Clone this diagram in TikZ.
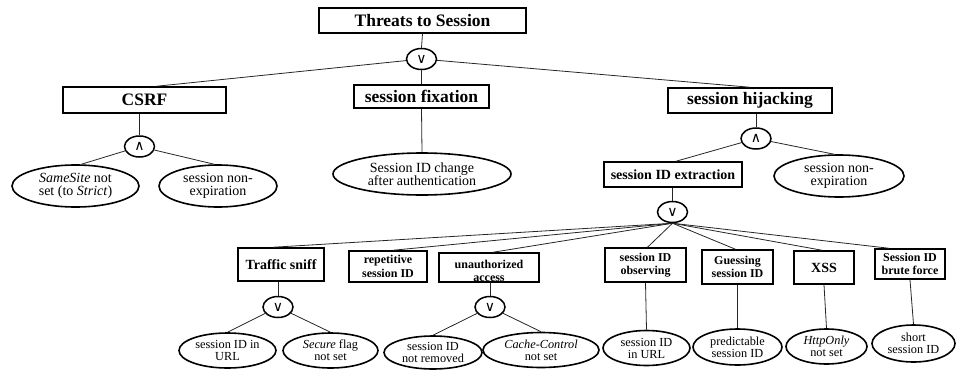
\documentclass[tikz,border=0pt]{standalone}
\usepackage{fontspec}
\setmainfont{Liberation Serif}
\newfontfamily\symfont{DejaVu Sans}
\usetikzlibrary{shapes.geometric}
\begin{document}
\begin{tikzpicture}[x=1pt,y=-1pt,
  box/.style={draw, line width=1.5pt, rectangle, inner sep=0pt, align=center},
  bigf/.style={font={\fontsize{17.5}{19}\selectfont\bfseries}},
  medf/.style={font={\fontsize{14}{15}\selectfont\bfseries}},
  smf/.style={font={\fontsize{12}{13.3}\selectfont\bfseries}},
  ell/.style={draw, ellipse, line width=1.6pt, inner sep=0pt, align=center},
  ellA/.style={font={\fontsize{14}{13.3}\selectfont}},
  ellB/.style={font={\fontsize{12.3}{12}\selectfont}},
  gate/.style={draw, ellipse, line width=1.5pt, inner sep=0pt, minimum width=30, minimum height=21, font={\symfont\fontsize{14}{14}\selectfont}},
  edge/.style={line width=0.8pt, black!85}]
\useasboundingbox (0,0) rectangle (956,370);

% level 0
\node[box, bigf, minimum width=207, minimum height=25] (root) at (422.5,20.5) {Threats to Session};
\node[gate] (g0) at (421.5,59) {∨};

% level 1
\node[box, bigf, minimum width=163, minimum height=26] (csrf) at (144.5,100) {CSRF};
\node[box, bigf, minimum width=135, minimum height=23] (fix) at (421.5,96.5) {session fixation};
\node[box, bigf, minimum width=164, minimum height=25] (hij) at (750,100.5) {session hijacking};

% CSRF subtree
\node[gate] (g1) at (139.5,146.5) {∧};
\node[ell, ellA, minimum width=127, minimum height=42] (same) at (75.5,186) {\textit{SameSite} not\\set (to \textit{Strict})};
\node[ell, ellA, minimum width=118, minimum height=42] (nexp1) at (218,186) {session non-\\expiration};

% fixation subtree
\node[ell, ellA, minimum width=178, minimum height=42] (chg) at (422,174) {Session ID change\\after authentication};

% hijacking subtree
\node[gate] (g2) at (756,138.5) {∧};
\node[box, medf, minimum width=138, minimum height=25] (ext) at (673,174.5) {session ID extraction};
\node[ell, ellA, minimum width=130, minimum height=42] (nexp2) at (839,176) {session non-\\expiration};
\node[gate] (g3) at (672.5,212) {∨};

% bottom boxes
\node[box, medf, minimum width=86, minimum height=33] (ts) at (281,264.5) {Traffic sniff};
\node[box, smf, minimum width=78, minimum height=31] (rep) at (388,266.5) {repetitive\\session ID};
\node[box, minimum width=100, minimum height=29] (ua) at (489,267.5) {};
\node[smf, align=center, inner sep=0pt] (uat) at (489,271) {unauthorized\\access};
\node[box, smf, minimum width=81, minimum height=34] (obs) at (645.5,265) {session ID\\observing};
\node[box, smf, minimum width=71, minimum height=34] (gue) at (737.5,267) {Guessing\\session ID};
\node[box, medf, minimum width=60, minimum height=33] (xss) at (824,267.5) {XSS};
\node[box, smf, minimum width=70, minimum height=30] (bf) at (910,264) {Session ID\\brute force};

% bottom gates
\node[gate] (g4) at (278,307) {∨};
\node[gate] (g5) at (490,307) {∨};

% bottom ellipses
\node[ell, ellB, minimum width=97, minimum height=35] (url1) at (227.5,350.5) {session ID in\\URL};
\node[ell, ellB, minimum width=95, minimum height=35] (sec) at (330.5,350.5) {\textit{Secure} flag\\not set};
\node[ell, ellB, minimum width=98, minimum height=33] (nrm) at (433,352.5) {session ID\\not removed};
\node[ell, ellB, minimum width=116, minimum height=35] (cc) at (541,350) {\textit{Cache-Control}\\not set};
\node[ell, ellB, minimum width=87, minimum height=35] (url2) at (646.5,348) {session ID\\in URL};
\node[ell, ellB, minimum width=89, minimum height=36] (pred) at (737.5,347) {predictable\\session ID};
\node[ell, ellB, minimum width=81, minimum height=35] (http) at (826.5,346.5) {\textit{HttpOnly}\\not set};
\node[ell, ellB, minimum width=83, minimum height=37] (short) at (913.5,343.5) {short\\session ID};

% connectors
\draw[edge] (root.south) -- (g0.north);
\draw[edge] (g0) -- ([xshift=12]csrf.north);
\draw[edge] (g0) -- (fix.north);
\draw[edge] (g0) -- (hij.north);

\draw[edge] (g1) -- (g1 |- csrf.south);
\draw[edge] (g1) -- ([xshift=6]same.north);
\draw[edge] (g1) -- ([xshift=-4]nexp1.north);

\draw[edge] (fix.south) -- (chg.north);

\draw[edge] (g2) -- (g2 |- hij.south);
\draw[edge] (g2) -- ([xshift=3]ext.north);
\draw[edge] (g2) -- ([xshift=-5]nexp2.north);

\draw[edge] (g3) -- (g3 |- ext.south);
\draw[edge] (g3.south) -- ([xshift=-8]ts.north);
\draw[edge] (g3.south) -- ([xshift=5]rep.north);
\draw[edge] (g3.south) -- ([xshift=4]ua.north);
\draw[edge] (g3.south) -- ([xshift=2]obs.north);
\draw[edge] (g3.south) -- ([xshift=-2]gue.north);
\draw[edge] (g3.south) -- ([xshift=-2]xss.north);
\draw[edge] (g3.south) -- ([xshift=-21]bf.north);

\draw[edge] (g4) -- (g4 |- ts.south);
\draw[edge] (g4) -- (url1.north);
\draw[edge] (g4) -- (sec.north);

\draw[edge] (g5) -- (g5 |- ua.south);
\draw[edge] (g5) -- (nrm.north);
\draw[edge] (g5) -- (cc.north);

\draw[edge] (obs.south) -- (url2.north);
\draw[edge] (gue.south) -- (pred.north);
\draw[edge] (xss.south) -- (http.north);
\draw[edge] (bf.south) -- (short.north);
\end{tikzpicture}
\end{document}
